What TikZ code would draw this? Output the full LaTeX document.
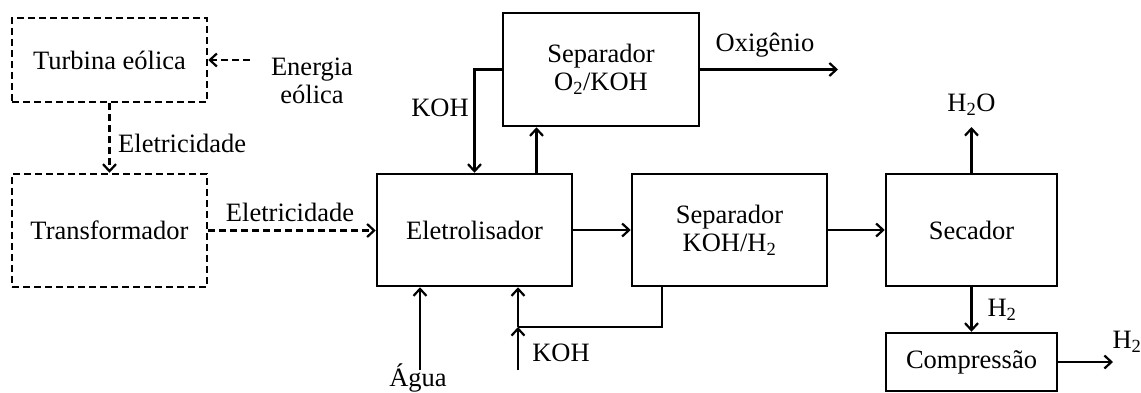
\documentclass[tikz,border=0pt]{standalone}
\usepackage{fontspec}
\setmainfont{Liberation Serif}
\usetikzlibrary{arrows.meta}
\begin{document}
\begin{tikzpicture}[x=1pt,y=-1pt,
  every node/.style={font=\fontsize{26.5}{28}\selectfont, inner sep=0pt},
  blk/.style={draw, line width=2.5pt, minimum width=#1},
  dsh/.style={dash pattern=on 7pt off 4pt},
  arr/.style={line width=2.5pt, -{Straight Barb[length=7pt,width=13pt,line width=2.2pt]}},
  ln/.style={line width=2.5pt}]
\useasboundingbox (0,0) rectangle (1141,392);
% boxes
\node[blk=195pt, dsh, minimum height=84pt] (turb) at (109.5,60) {Turbina eólica};
\node[blk=195pt, dsh, minimum height=113pt] (trans) at (109.5,230.5) {Transformador};
\node[blk=195pt, minimum height=112pt] (ele) at (474.5,230) {Eletrolisador};
\node[blk=196pt, minimum height=113pt, align=center] (sepO) at (601,69.5) {Separador\\O\textsubscript{2}/KOH};
\node[blk=195pt, minimum height=112pt, align=center] (sepH) at (729.5,230) {Separador\\KOH/H\textsubscript{2}};
\node[blk=171pt, minimum height=112pt] (sec) at (971.5,230) {Secador};
\node[blk=171pt, minimum height=58pt] (comp) at (971.5,362) {Compressão};
% coordinates
\coordinate (eStart) at (250,60);
\coordinate (oxEnd) at (838,69.5);
\coordinate (h2oEnd) at (971.5,127);
\coordinate (h2End) at (1113,362);
\coordinate (aguaStart) at (420,370);
\coordinate (kohStart) at (518,370);
\coordinate (kj) at (518,327);
% labels
\node[align=center] (energ) at (312,81) {Energia\\eólica};
\node[anchor=west] (el1) at (118,143) {Eletricidade};
\node (el2) at (290,212) {Eletricidade};
\node (koh1) at (440,108) {KOH};
\node (oxl) at (765,45) {Oxigênio};
\node (h2ol) at (971.5,105) {H\textsubscript{2}O};
\node (h2l1) at (1002,310) {H\textsubscript{2}};
\node (h2l2) at (1127,342) {H\textsubscript{2}};
\node[anchor=base] (agua) at (418,386) {Água};
\node (koh2) at (561,353) {KOH};
% connectors
\draw[arr, dsh] (eStart) -- (turb.east);
\draw[arr, dsh] (turb.south) -- (trans.north);
\draw[arr, dsh] (trans.east) -- (trans.east -| ele.west);
\draw[arr] (sepO.west) -| (ele.north);
\draw[arr] ([xshift=62pt]ele.north) -- ([xshift=62pt]ele.north |- sepO.south);
\draw[arr] (sepO.west -| sepO.east) -- (oxEnd);
\draw[arr] (ele.east) -- (sepH.west);
\draw[arr] (sepH.east) -- (sec.west);
\draw[arr] (sec.north) -- (h2oEnd);
\draw[arr] (sec.south) -- (comp.north);
\draw[arr] (comp.east) -- (h2End);
\draw[arr] (aguaStart) -- (aguaStart |- ele.south);
\draw[arr] (kohStart) -- (kj);
\draw[arr] (kj) -- (kj |- ele.south);
\draw[ln] ([xshift=-67.5pt]sepH.south) |- (kj);
\end{tikzpicture}
\end{document}
